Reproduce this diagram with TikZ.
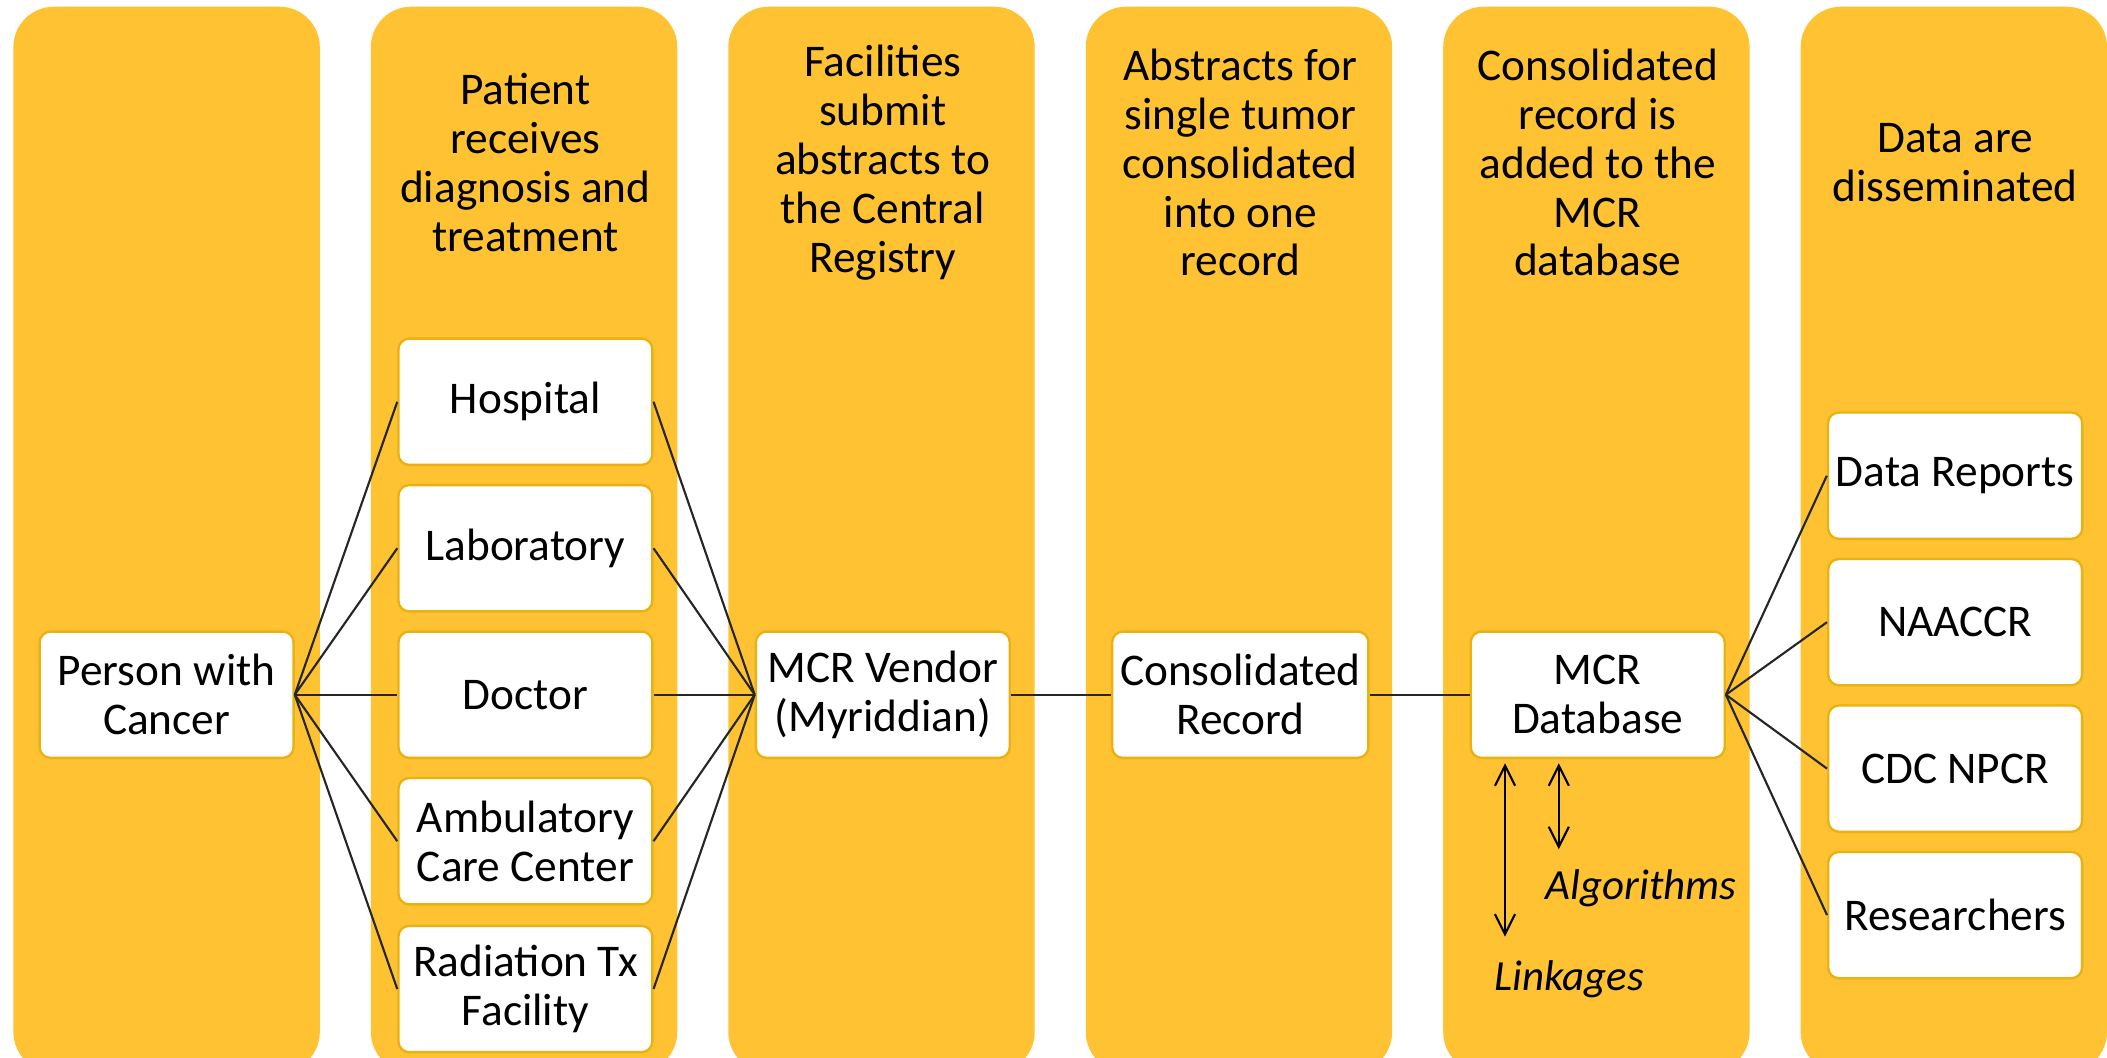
\documentclass[tikz,border=0pt]{standalone}
\usepackage{fontspec}
\setmainfont{Carlito}
\definecolor{gold}{RGB}{254,194,50}
\definecolor{goldline}{RGB}{232,178,18}
\usetikzlibrary{
    arrows.meta,
    positioning
}
\tikzstyle{lane} = [
    fill=gold,
    rounded corners=0.6cm
]
\tikzstyle{box} = [
    rectangle,
    rounded corners=0.16cm,
    draw=goldline,
    line width=1pt,
    fill=white,
    minimum width=3.78cm,
    minimum height=1.88cm,
    align=center,
    font=\fontsize{19.2}{20.7}\selectfont
]
\tikzstyle{head} = [
    align=center,
    font=\fontsize{19.2}{20.7}\selectfont
]
\tikzstyle{note} = [
    anchor=west,
    font=\fontsize{18.2}{20.7}\selectfont\itshape
]
\tikzstyle{link} = [
    draw=black!85,
    line width=0.9pt
]
\tikzstyle{both} = [
    <->,
    >={Straight Barb[length=0.3cm, width=0.3cm]},
    line width=0.9pt
]

\begin{document}
\begin{tikzpicture}[x=0.02cm, y=-0.02cm]
    \useasboundingbox (0,0) rectangle (1568,787);

    % six gold lanes
    \foreach \i in {0,...,5} {
        \fill[lane] (10+266*\i,5) rectangle (238+266*\i,798);
    }

    % lane headings
    \node[head] (h2) at (391,121) {Patient\\receives\\diagnosis and\\treatment};
    \node[head] (h3) at (657,121) {Facilities\\submit\\abstracts to\\the Central\\Registry};
    \node[head] (h4) at (923,121) {Abstracts for\\single tumor\\consolidated\\into one\\record};
    \node[head] (h5) at (1189,121) {Consolidated\\record is\\added to the\\MCR\\database};
    \node[head] (h6) at (1455,121) {Data are\\disseminated};

    % patient
    \node[box] (person) at (124,517) {Person with\\Cancer};

    % facilities
    \node[box] (hospital) at (391,299) {Hospital};
    \node[box] (lab) at (391,408) {Laboratory};
    \node[box] (doctor) at (391,517) {Doctor};
    \node[box] (ambulatory) at (391,626) {Ambulatory\\Care Center};
    \node[box] (radiation) at (391,736) {Radiation Tx\\Facility};

    % registry chain
    \node[box] (vendor) at (657,517) {MCR Vendor\\(Myriddian)};
    \node[box] (consol) at (923,517) {Consolidated\\Record};
    \node[box] (database) at (1189,517) {MCR\\Database};

    % users of the data
    \node[box] (reports) at (1455,354) {Data Reports};
    \node[box] (naaccr) at (1455,463) {NAACCR};
    \node[box] (npcr) at (1455,572) {CDC NPCR};
    \node[box] (researchers) at (1455,681) {Researchers};

    % fan out and back in
    \foreach \f in {hospital,lab,doctor,ambulatory,radiation} {
        \draw[link] (person.east) -- (\f.west);
        \draw[link] (\f.east) -- (vendor.west);
    }
    \draw[link] (vendor) -- (consol);
    \draw[link] (consol) -- (database);
    \foreach \u in {reports,naaccr,npcr,researchers} {
        \draw[link] (database.east) -- (\u.west);
    }

    % linkages and algorithms
    \coordinate (linktop) at (1120,568);
    \coordinate (linkend) at (1120,697);
    \coordinate (algotop) at (1160,568);
    \coordinate (algoend) at (1160,632);
    \draw[both] (linktop) -- (linkend);
    \draw[both] (algotop) -- (algoend);
    \node[note] (algo) at (1144,661) {Algorithms};
    \node[note] (linkage) at (1106,729) {Linkages};
\end{tikzpicture}
\end{document}
